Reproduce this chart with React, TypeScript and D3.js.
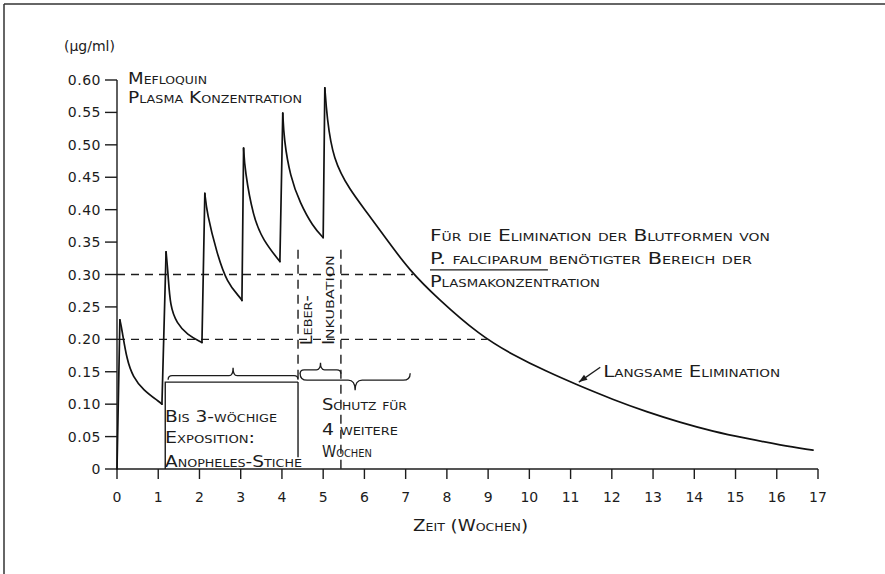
import * as d3 from "d3";

// Mefloquin plasma concentration (µg/ml) over time (weeks)
const weeks = [0, 0.07, 0.12, 0.24, 0.39, 0.63, 1.04, 1.09, 1.19, 1.24, 1.29, 1.45, 1.7, 2.06, 2.13, 2.18, 2.42, 2.67, 2.98, 3.03, 3.07, 3.1, 3.3, 3.54, 3.95, 4.02, 4.05, 4.2, 4.44, 4.75, 5.0, 5.04, 5.09, 5.24, 5.65, 6.06, 6.55, 7.1, 7.76, 8.8, 9.6, 10.43, 11.15, 12.03, 12.85, 13.65, 14.45, 15.28, 16.08, 16.88];
const conc = [0, 0.23, 0.215, 0.168, 0.142, 0.122, 0.103, 0.1, 0.335, 0.3, 0.25, 0.225, 0.207, 0.195, 0.425, 0.395, 0.333, 0.287, 0.265, 0.26, 0.495, 0.461, 0.389, 0.353, 0.32, 0.549, 0.508, 0.451, 0.41, 0.374, 0.357, 0.588, 0.543, 0.477, 0.43, 0.396, 0.353, 0.306, 0.264, 0.206, 0.176, 0.15, 0.13, 0.107, 0.088, 0.072, 0.058, 0.047, 0.037, 0.029];

const yTicks = [0, 0.05, 0.1, 0.15, 0.2, 0.25, 0.3, 0.35, 0.4, 0.45, 0.5, 0.55, 0.6];
const xTicks = [0, 1, 2, 3, 4, 5, 6, 7, 8, 9, 10, 11, 12, 13, 14, 15, 16, 17];

// range needed for P. falciparum blood forms, and where the curve leaves it
const thresholds = [0.3, 0.2];
const thresholdEnds = [7.18, 8.97];

// phases (weeks)
const exposureStart = 1.17;
const liverStart = 4.39;
const liverEnd = 5.43;
const protectEnd = 7.11;

const W = 885;
const H = 574;

const x = d3.scaleLinear().domain([0, 17]).range([117, 818]);
const y = d3.scaleLinear().domain([0, 0.6]).range([469, 80]);

const ink = "#1c1c1c";

function brace(x1: number, x2: number, yl: number, dir: number, h: number, m: number) {
  // dir -1: middle points up, +1: middle points down
  const xm = (x1 + x2) / 2;
  const p = d3.path();
  p.moveTo(x1, yl - dir * h);
  p.quadraticCurveTo(x1, yl, x1 + h, yl);
  p.lineTo(xm - h, yl);
  p.quadraticCurveTo(xm, yl, xm, yl + dir * m);
  p.quadraticCurveTo(xm, yl, xm + h, yl);
  p.lineTo(x2 - h, yl);
  p.quadraticCurveTo(x2, yl, x2, yl - dir * h);
  return p.toString();
}

function Label({ t, v, len, children, size = 16 }: any) {
  return (
    <text
      x={x(t)}
      y={y(v)}
      fontSize={size}
      style={{ fontVariant: "small-caps" }}
      textLength={len}
      lengthAdjust="spacingAndGlyphs"
      fill={ink}
    >
      {children}
    </text>
  );
}

export default function App() {
  const pts = weeks.map((w, i) => [w, conc[i]] as [number, number]);

  // split into dose rises (straight) and decays (smoothed)
  const peaks = d3.range(1, pts.length).filter((i) => conc[i] > conc[i - 1]);
  const rises = peaks.map((i) => [pts[i - 1], pts[i]]);
  const decays = peaks.map((p, k) => {
    const end = k < peaks.length - 1 ? peaks[k + 1] - 1 : pts.length - 1;
    return pts.slice(p, end + 1);
  });

  const straight = d3.line<[number, number]>().x((d) => x(d[0])).y((d) => y(d[1]));
  const smooth = d3
    .line<[number, number]>()
    .x((d) => x(d[0]))
    .y((d) => y(d[1]))
    .curve(d3.curveBasis);

  const arrowFrom = [x(11.72), y(0.157)];
  const arrowTo = [x(11.2), y(0.134)];
  const ang = Math.atan2(arrowTo[1] - arrowFrom[1], arrowTo[0] - arrowFrom[0]);
  const ah = 9;
  const head = [
    arrowTo,
    [arrowTo[0] - ah * Math.cos(ang - 0.35), arrowTo[1] - ah * Math.sin(ang - 0.35)],
    [arrowTo[0] - ah * Math.cos(ang + 0.35), arrowTo[1] - ah * Math.sin(ang + 0.35)],
  ];

  return (
    <svg
      width={W}
      height={H}
      style={{ position: "absolute", left: 0, top: 0, background: "#fff" }}
      fontFamily="DejaVu Sans, sans-serif"
    >
      {/* scan frame */}
      <line x1={4} y1={4} x2={W} y2={4} stroke="#333" strokeWidth={1.5} />
      <line x1={4} y1={4} x2={4} y2={H} stroke="#333" strokeWidth={1.5} />

      {/* y axis */}
      <text x={64} y={51} fontSize={14} fill={ink}>(µg/ml)</text>
      <line x1={x(0)} y1={y(0)} x2={x(0)} y2={y(0.6)} stroke={ink} strokeWidth={1.4} />
      {yTicks.map((t) => (
        <g key={t}>
          <line x1={x(0) - 12} x2={x(0)} y1={y(t)} y2={y(t)} stroke={ink} strokeWidth={1.4} />
          <text x={x(0) - 16} y={y(t)} dy="0.36em" textAnchor="end" fontSize={14} letterSpacing={0.5} fill={ink}>
            {t === 0 ? "0" : t.toFixed(2)}
          </text>
        </g>
      ))}

      {/* x axis */}
      <line x1={x(0)} y1={y(0)} x2={x(17)} y2={y(0)} stroke={ink} strokeWidth={1.4} />
      {xTicks.map((t) => (
        <g key={t}>
          <line x1={x(t)} x2={x(t)} y1={y(0)} y2={y(0) + 10} stroke={ink} strokeWidth={1.4} />
          <text x={x(t)} y={y(0) + 33} textAnchor="middle" fontSize={14} fill={ink}>
            {t}
          </text>
        </g>
      ))}
      <Label t={7.18} v={-0.095} len={115}>Zeit (Wochen)</Label>

      {/* threshold band */}
      {thresholds.map((v, i) => (
        <line key={v} x1={x(0)} x2={x(thresholdEnds[i])} y1={y(v)} y2={y(v)}
          stroke={ink} strokeWidth={1.3} strokeDasharray="8 6" />
      ))}

      {/* liver incubation markers */}
      <line x1={x(liverStart)} x2={x(liverStart)} y1={y(0.338)} y2={y(0.134)}
        stroke={ink} strokeWidth={1.4} strokeDasharray="9 6" />
      <line x1={x(liverStart)} x2={x(liverStart)} y1={y(0.134)} y2={y(0.018)}
        stroke={ink} strokeWidth={1.4} />
      <line x1={x(liverEnd)} x2={x(liverEnd)} y1={y(0.338)} y2={y(0)}
        stroke={ink} strokeWidth={1.4} strokeDasharray="9 6" />
      <text transform={`translate(${x(4.73)},${y(0.191)}) rotate(-90)`} fontSize={15}
        style={{ fontVariant: "small-caps" }} textLength={50} lengthAdjust="spacingAndGlyphs" fill={ink}>Leber-</text>
      <text transform={`translate(${x(5.26)},${y(0.191)}) rotate(-90)`} fontSize={15}
        style={{ fontVariant: "small-caps" }} textLength={90} lengthAdjust="spacingAndGlyphs" fill={ink}>Inkubation</text>

      {/* exposure box */}
      <path
        d={`M${x(exposureStart)},${y(0)}V${y(0.134)}H${x(liverStart)}`}
        fill="none" stroke={ink} strokeWidth={1.4}
      />
      <path d={brace(x(1.24), x(liverStart), y(0.144), -1, 4, 8)} fill="none" stroke={ink} strokeWidth={1.3} />
      <path d={brace(x(4.44), x(liverEnd), y(0.153), -1, 4, 7)} fill="none" stroke={ink} strokeWidth={1.3} />
      <path d={brace(x(4.44), x(protectEnd), y(0.137), 1, 7, 10)} fill="none" stroke={ink} strokeWidth={1.3} />

      <Label t={1.164} v={0.0725} len={112}>Bis 3-wöchige</Label>
      <Label t={1.164} v={0.04} len={90}>Exposition:</Label>
      <Label t={1.164} v={0.003} len={137}>Anopheles-Stiche</Label>

      <Label t={4.97} v={0.091} len={85}>Schutz für</Label>
      <Label t={4.97} v={0.052} len={76}>4 weitere</Label>
      <Label t={4.97} v={0.0185} len={50}>Wochen</Label>

      {/* annotations */}
      <Label t={0.267} v={0.594} len={79}>Mefloquin</Label>
      <Label t={0.267} v={0.565} len={174}>Plasma Konzentration</Label>

      <Label t={7.59} v={0.352} len={340}>Für die Elimination der Blutformen von</Label>
      <Label t={7.59} v={0.316} len={322}>P. falciparum benötigter Bereich der</Label>
      <line x1={x(7.59)} x2={x(10.45)} y1={y(0.307)} y2={y(0.307)} stroke={ink} strokeWidth={1.2} />
      <Label t={7.59} v={0.281} len={170}>Plasmakonzentration</Label>

      <Label t={11.79} v={0.142} len={177}>Langsame Elimination</Label>
      <line x1={arrowFrom[0]} y1={arrowFrom[1]} x2={arrowTo[0]} y2={arrowTo[1]} stroke={ink} strokeWidth={1.3} />
      <polygon points={head.map((p) => p.join(",")).join(" ")} fill={ink} />

      {/* concentration curve */}
      <g fill="none" stroke="#111" strokeWidth={1.7} strokeLinejoin="round" strokeLinecap="round">
        {rises.map((r, i) => (
          <path key={"r" + i} d={straight(r as [number, number][]) ?? ""} />
        ))}
        {decays.map((d, i) => (
          <path key={"d" + i} d={smooth(d) ?? ""} />
        ))}
      </g>
    </svg>
  );
}
